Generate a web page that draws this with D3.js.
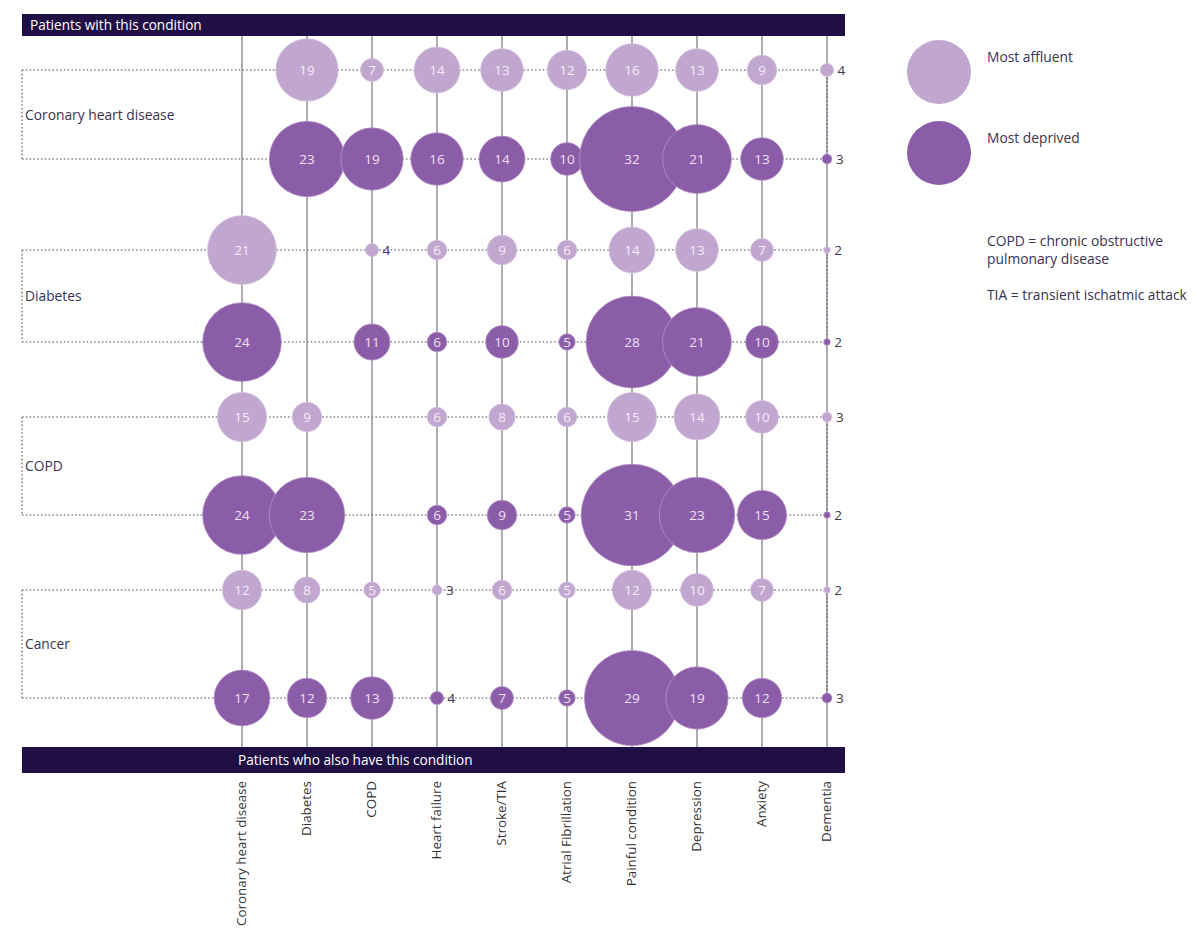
<!DOCTYPE html>
<html>
<head>
<meta charset="utf-8">
<script src="https://cdn.jsdelivr.net/npm/d3@7"></script>
<style>
  body { margin: 0; background: #fff; }
  text { font-family: "Open Sans", "Noto Sans", sans-serif; }
</style>
</head>
<body>
<svg id="chart" width="1200" height="945"></svg>
<script>
// conditions along the bottom
const columns = ["Coronary heart disease", "Diabetes", "COPD", "Heart failure", "Stroke/TIA",
  "Atrial Fibrillation", "Painful condition", "Depression", "Anxiety", "Dementia"];

// conditions down the side
const groups = ["Coronary heart disease", "Diabetes", "COPD", "Cancer"];

// % of patients who also have the column condition (null = same condition)
const chdAffluent   = [null, 19, 7, 14, 13, 12, 16, 13, 9, 4];
const chdDeprived   = [null, 23, 19, 16, 14, 10, 32, 21, 13, 3];
const diabAffluent  = [21, null, 4, 6, 9, 6, 14, 13, 7, 2];
const diabDeprived  = [24, null, 11, 6, 10, 5, 28, 21, 10, 2];
const copdAffluent  = [15, 9, null, 6, 8, 6, 15, 14, 10, 3];
const copdDeprived  = [24, 23, null, 6, 9, 5, 31, 23, 15, 2];
const cancAffluent  = [12, 8, 5, 3, 6, 5, 12, 10, 7, 2];
const cancDeprived  = [17, 12, 13, 4, 7, 5, 29, 19, 12, 3];

const seriesNames = ["Most affluent", "Most deprived"];

const rows = [
  {group: groups[0], kind: 0, values: chdAffluent},
  {group: groups[0], kind: 1, values: chdDeprived},
  {group: groups[1], kind: 0, values: diabAffluent},
  {group: groups[1], kind: 1, values: diabDeprived},
  {group: groups[2], kind: 0, values: copdAffluent},
  {group: groups[2], kind: 1, values: copdDeprived},
  {group: groups[3], kind: 0, values: cancAffluent},
  {group: groups[3], kind: 1, values: cancDeprived}
];
rows.forEach((r, i) => r.key = i);

const navy = "#200f45";
const fills = ["#c1a6d0", "#8b5da8"];
const labelFills = ["#f4ecf7", "#eee0f3"];

let svg = d3.select("#chart");

const x = d3.scalePoint().domain(columns).range([242, 827]);
const y = d3.scaleOrdinal().domain(rows.map(d => d.key))
  .range([70, 159, 250, 342, 417, 515, 590, 698]);
const r = d3.scaleLinear().domain([0, 32]).range([0, 52.5]);

const left = 22, right = 845, topBar = [14, 36], botBar = [747, 773];

// vertical column lines
svg.append("g").selectAll("line")
  .data(columns)
  .join("line")
  .attr("x1", d => x(d)).attr("x2", d => x(d))
  .attr("y1", topBar[1]).attr("y2", botBar[0])
  .attr("stroke", "#9b979f")
  .attr("stroke-width", 1.6);

// dotted rows + bracket per group
let dots = svg.append("g")
  .attr("fill", "none")
  .attr("stroke", "#8d8496")
  .attr("stroke-width", 1.6)
  .attr("stroke-dasharray", "1.6,2.2");

dots.selectAll("line.row")
  .data(rows)
  .join("line").attr("class", "row")
  .attr("x1", left).attr("x2", x("Dementia"))
  .attr("y1", d => y(d.key)).attr("y2", d => y(d.key));

groups.forEach((g, i) => {
  let y0 = y(i * 2), y1 = y(i * 2 + 1);
  dots.append("line")
    .attr("x1", left).attr("x2", left)
    .attr("y1", y0).attr("y2", y1);
  // dotted overlay on the dementia line within the pair
  dots.append("line")
    .attr("x1", x("Dementia")).attr("x2", x("Dementia"))
    .attr("y1", y0).attr("y2", y1)
    .attr("stroke", "#7a6f86");
  svg.append("text")
    .attr("x", left + 3)
    .attr("y", (y0 + y1) / 2 + 5)
    .attr("font-size", 13.8)
    .attr("fill", "#3a3450")
    .text(g);
});

// bubbles
const cells = [];
rows.forEach(row => {
  row.values.forEach((v, j) => {
    if (v !== null) cells.push({row: row, col: columns[j], value: v});
  });
});

let bubbles = svg.append("g").selectAll("g")
  .data(cells)
  .join("g")
  .attr("transform", d => `translate(${x(d.col)},${y(d.row.key)})`);

bubbles.append("circle")
  .attr("r", d => r(d.value))
  .attr("fill", d => fills[d.row.kind])
  .attr("stroke", d => d.row.kind ? "#b590c8" : "#d3c0dd")
  .attr("stroke-width", 0.8);

bubbles.append("text")
  .attr("x", d => d.value <= 4 ? r(d.value) + 4 : 0)
  .attr("dy", "0.36em")
  .attr("text-anchor", d => d.value <= 4 ? "start" : "middle")
  .attr("font-size", 13.5)
  .attr("fill", d => d.value <= 4 ? "#3d3848" : labelFills[d.row.kind])
  .text(d => d.value);

// header and footer bars
svg.append("rect")
  .attr("x", left).attr("y", topBar[0])
  .attr("width", right - left).attr("height", topBar[1] - topBar[0])
  .attr("fill", navy);
svg.append("text")
  .attr("x", 30).attr("y", 30)
  .attr("font-size", 13.6).attr("fill", "#fff")
  .text("Patients with this condition");

svg.append("rect")
  .attr("x", left).attr("y", botBar[0])
  .attr("width", right - left).attr("height", botBar[1] - botBar[0])
  .attr("fill", navy);
svg.append("text")
  .attr("x", 238).attr("y", 765)
  .attr("font-size", 13.6).attr("fill", "#fff")
  .text("Patients who also have this condition");

// column labels
svg.append("g").selectAll("text")
  .data(columns)
  .join("text")
  .attr("transform", d => `translate(${x(d) + 4},781) rotate(-90)`)
  .attr("text-anchor", "end")
  .attr("font-size", 13.4)
  .attr("fill", "#333")
  .text(d => d);

// legend
let legend = svg.append("g").selectAll("g")
  .data(seriesNames)
  .join("g")
  .attr("transform", (d, i) => `translate(939,${72 + i * 81})`);
legend.append("circle")
  .attr("r", 32)
  .attr("fill", (d, i) => fills[i]);
legend.append("text")
  .attr("x", 48).attr("y", -10)
  .attr("font-size", 13.8).attr("fill", "#3a3450")
  .text(d => d);

const notes = ["COPD = chronic obstructive", "pulmonary disease", "", "TIA = transient ischatmic attack"];
svg.append("g").selectAll("text")
  .data(notes)
  .join("text")
  .attr("x", 987)
  .attr("y", (d, i) => 246 + i * 18)
  .attr("font-size", 13.8).attr("fill", "#3a3450")
  .text(d => d);
</script>
</body>
</html>
